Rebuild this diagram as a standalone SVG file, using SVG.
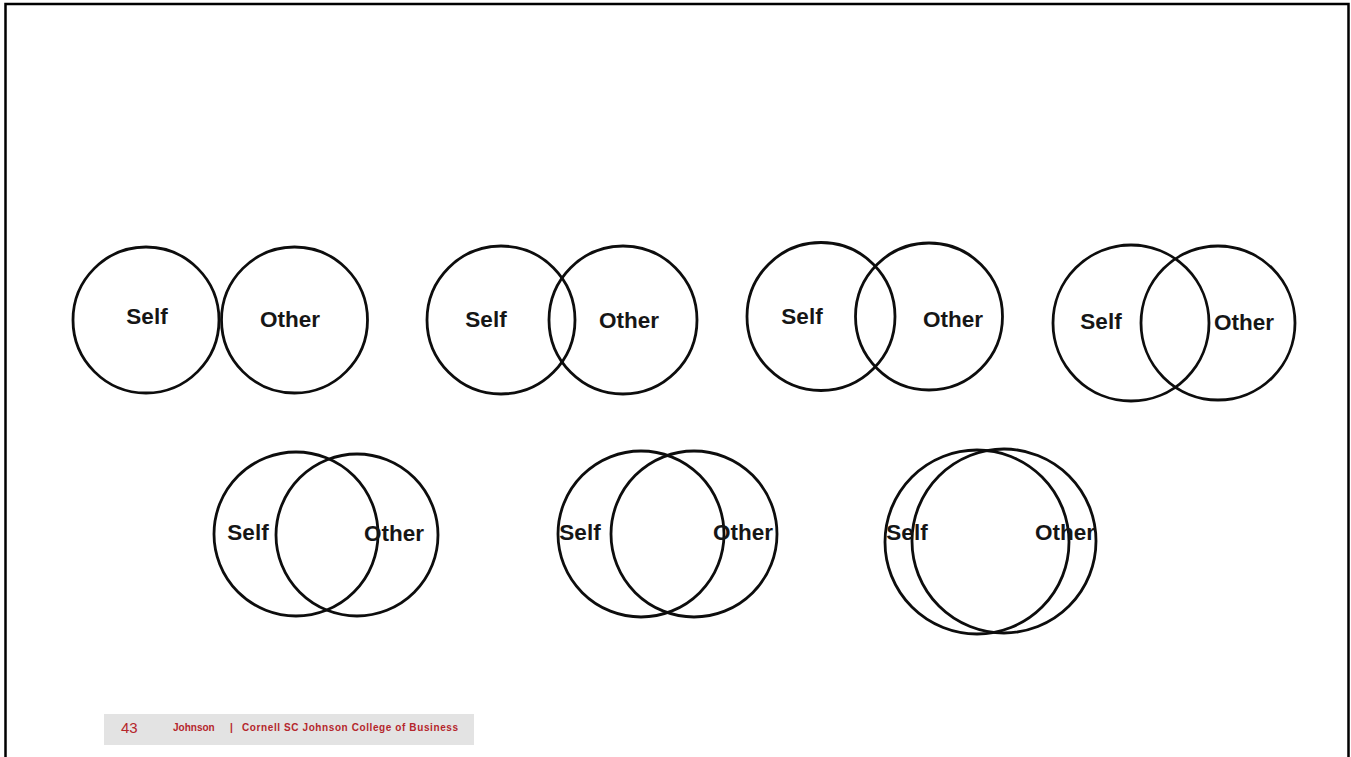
<svg xmlns="http://www.w3.org/2000/svg" width="1351" height="757" viewBox="0 0 1351 757">
<style>
.c{fill:none;stroke:#0d0d0d;stroke-width:2.8}
.t{font-family:"Liberation Sans",Arial,sans-serif;font-weight:bold;font-size:22.5px;fill:#161616;text-anchor:middle}
.f{font-family:"Liberation Sans",Arial,sans-serif;fill:#b5262c}
</style>
<rect width="1351" height="757" fill="#fff"/>
<path d="M5.5 760 V4 H1348.5 V760" fill="none" stroke="#000" stroke-width="2.5"/>
<g id="pair1">
<circle class="c" cx="146" cy="320" r="73"/>
<circle class="c" cx="294.5" cy="320" r="73"/>
<text class="t" x="147" y="324">Self</text>
<text class="t" x="290" y="327">Other</text>
</g>
<g id="pair2">
<circle class="c" cx="501" cy="320" r="74"/>
<circle class="c" cx="623" cy="320" r="74"/>
<text class="t" x="486" y="327">Self</text>
<text class="t" x="629" y="328">Other</text>
</g>
<g id="pair3">
<circle class="c" cx="821" cy="316.5" r="74"/>
<circle class="c" cx="929" cy="316.5" r="73.5"/>
<text class="t" x="802" y="324">Self</text>
<text class="t" x="953" y="327">Other</text>
</g>
<g id="pair4">
<circle class="c" cx="1131" cy="323" r="78"/>
<circle class="c" cx="1218" cy="323" r="77"/>
<text class="t" x="1101" y="329">Self</text>
<text class="t" x="1244" y="330">Other</text>
</g>
<g id="pair5">
<circle class="c" cx="296" cy="534" r="82"/>
<circle class="c" cx="357" cy="535" r="81"/>
<text class="t" x="248" y="540">Self</text>
<text class="t" x="394" y="541">Other</text>
</g>
<g id="pair6">
<circle class="c" cx="641" cy="534" r="83"/>
<circle class="c" cx="694" cy="534" r="83"/>
<text class="t" x="580" y="540">Self</text>
<text class="t" x="743" y="540">Other</text>
</g>
<g id="pair7">
<circle class="c" cx="977" cy="542" r="92"/>
<circle class="c" cx="1004" cy="541" r="92"/>
<text class="t" x="907" y="540">Self</text>
<text class="t" x="1065" y="540">Other</text>
</g>
<g id="connectors"></g>
<g id="footer">
<rect x="104" y="714" width="370" height="31" fill="#e3e3e3"/>
<text class="f" x="121" y="733" font-size="15">43</text>
<text class="f" x="173" y="731" font-size="10" font-weight="bold">Johnson</text>
<text class="f" x="230" y="731" font-size="10" font-weight="bold">|</text>
<text class="f" x="242" y="731" font-size="10" font-weight="bold" textLength="216">Cornell SC Johnson College of Business</text>
</g>
</svg>
